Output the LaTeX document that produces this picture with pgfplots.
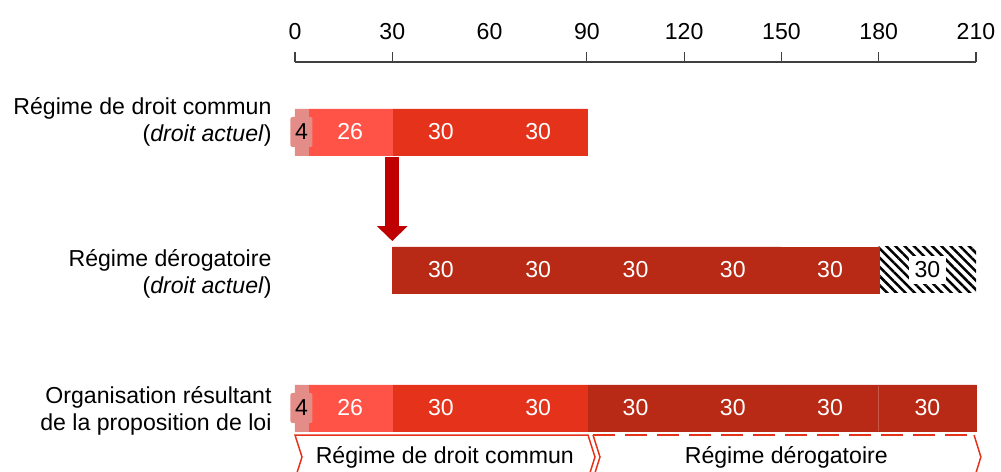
\documentclass[border=0pt]{standalone}
\usepackage{fontspec}
\setmainfont{Liberation Sans}
\usepackage{pgfplots}
\pgfplotsset{compat=1.18}
\usetikzlibrary{arrows.meta,patterns.meta}

\definecolor{seg4}{HTML}{E38C88}
\definecolor{seg26}{HTML}{FF5347}
\definecolor{commun}{HTML}{E4321B}
\definecolor{derog}{HTML}{B82A15}
\definecolor{fleche}{HTML}{C00000}

\pgfplotsset{
  lab/.style={
    fill=#1, draw=#1, line width=0.3bp,
    point meta=explicit,
    nodes near coords={\pgfmathfloatifflags{\pgfplotspointmeta}{0}{}{\pgfmathprintnumber{\pgfplotspointmeta}}},
    every node near coord/.append style={anchor=center, text=white},
  },
}

\begin{document}
\begin{tikzpicture}[font=\fontsize{23.1bp}{27bp}\selectfont]
\begin{axis}[
  at={(0,0)}, anchor=origin,
  x=3.2429bp, y=138bp,
  xmin=0, xmax=210, ymin=-0.6, ymax=2.507,
  xbar stacked, bar width=46bp,
  axis x line*=top, axis y line=none,
  clip=false,
  /pgf/number format/assume math mode=true,
  xtick={0,30,90,120,150,180,210},
  extra x ticks={60},
  extra x tick labels={60},
  extra x tick style={major x tick style={draw=none}},
  major tick length=10bp, tick align=outside,
  major tick style={draw=black!75, line width=1.2bp},
  x axis line style={draw=black!75, line width=1.2bp, -},
  xticklabel style={anchor=base, inner sep=0pt, yshift=13bp},
]
% decalage du regime derogatoire actuel
\addplot[fill=none, draw=none] coordinates {(0,0) (30,1) (0,2)};
\addplot[lab=seg4, every node near coord/.append style={text=black, fill=seg4,
    inner sep=0pt, minimum width=22bp, minimum height=30bp, rounded corners=2bp}]
  coordinates {(4,0) [4] (0,1) [0] (4,2) [4]};
\addplot[lab=seg26] coordinates {(26,0) [26] (0,1) [0] (26,2) [26]};
\addplot[lab=commun] coordinates {(30,0) [30] (0,1) [0] (30,2) [30]};
\addplot[lab=commun] coordinates {(30,0) [30] (0,1) [0] (30,2) [30]};
\addplot[lab=derog] coordinates {(30,0) [30] (30,1) [30] (0,2) [0]};
\addplot[lab=derog] coordinates {(30,0) [30] (30,1) [30] (0,2) [0]};
\addplot[lab=derog] coordinates {(30,0) [30] (30,1) [30] (0,2) [0]};
\addplot[lab=derog] coordinates {(30,0) [30] (30,1) [30] (0,2) [0]};
\addplot[lab=derog] coordinates {(0,0) [0] (30,1) [30] (0,2) [0]};
\addplot[lab=white, fill=none, draw=none,
  pattern={Lines[angle=-45,distance=6.5bp,line width=2.5bp]},
  every node near coord/.append style={text=black, fill=white, inner xsep=6bp, inner ysep=6bp}]
  coordinates {(0,0) [0] (30,1) [30] (0,2) [0]};

% fleche
\draw[line width=14bp, fleche, -{Triangle[width=30bp,length=15bp]}]
  (axis cs:30,1.819) -- (axis cs:30,1.21);

% libelles des lignes
\node[anchor=east, align=right, xshift=-20bp] at (axis cs:0,2.076)
  {Régime de droit commun\\(\textit{droit actuel})};
\node[anchor=east, align=right, xshift=-20bp] at (axis cs:0,0.975)
  {Régime dérogatoire\\(\textit{droit actuel})};
\node[anchor=east, align=right, xshift=-20bp] at (axis cs:0,-0.02)
  {Organisation résultant\\de la proposition de loi};

% accolades en chevron
\draw[commun, line width=1.5bp]
  (axis cs:0,-0.1957) -- (axis cs:90.35,-0.1957) -- (axis cs:92.5,-0.355)
  -- (axis cs:90.35,-0.5145) -- (axis cs:0,-0.5145) -- (axis cs:2.16,-0.355) -- cycle;
\draw[commun, line width=1.5bp, dash pattern=on 22bp off 10bp]
  (axis cs:91.9,-0.1957) -- (axis cs:209.4,-0.1957);
\draw[commun, line width=1.5bp]
  (axis cs:209.4,-0.1957) -- (axis cs:211.5,-0.355) -- (axis cs:209.4,-0.5145);
\draw[commun, line width=1.5bp]
  (axis cs:91.9,-0.1957) -- (axis cs:94.05,-0.355) -- (axis cs:91.9,-0.5145);
\node[anchor=base] at (axis cs:46.2,-0.399) {Régime de droit commun};
\node[anchor=base] at (axis cs:151.5,-0.399) {Régime dérogatoire};
\end{axis}
\pgfresetboundingbox
\path[use as bounding box] (-295bp,-64bp) rectangle (706bp,408bp);
\end{tikzpicture}
\end{document}
